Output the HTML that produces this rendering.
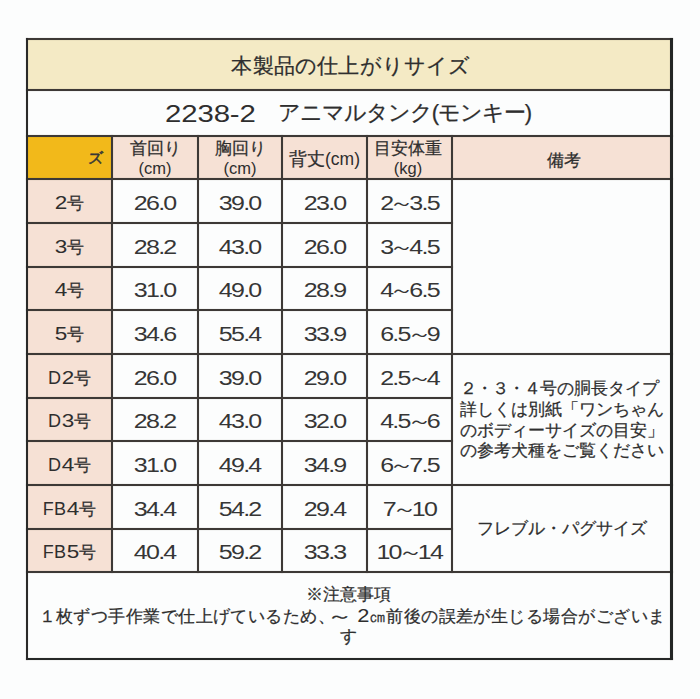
<!DOCTYPE html>
<html lang="ja"><head><meta charset="utf-8"><style>
html,body{margin:0;padding:0;background:#FCFDFD;width:700px;height:699px;overflow:hidden}
body{position:relative;font-family:"Liberation Sans",sans-serif;color:#2e2e2e;-webkit-text-stroke:0.25px #2e2e2e}
.f{position:absolute}
.h{position:absolute;height:2px;background:#3d3936;box-shadow:0 0 1px rgba(50,45,40,.45)}
.v{position:absolute;width:2px;background:#3d3936;box-shadow:0 0 1px rgba(50,45,40,.45)}
.t{position:absolute;display:flex;align-items:center;justify-content:center;text-align:center;white-space:nowrap;line-height:1}
.c{}
.n{font-size:20px;-webkit-text-stroke:0;color:#363636}
.n span{display:inline-block;transform:scaleX(1.25);letter-spacing:-1.4px}
.j{font-size:16.5px}
.L{font-size:18px;letter-spacing:0.3px;-webkit-text-stroke:0}
.L b{font-weight:normal;display:inline-block;transform:scaleX(1.25);margin:0 1.25px}
.n i{font-style:normal;margin:0 -2.5px}
.rm{text-align:left}
.lt{-webkit-text-stroke:0}
</style></head><body>
<div class="f" style="left:28px;top:40px;width:642px;height:49px;background:#F4EAC5"></div>
<div class="f" style="left:28px;top:137px;width:83px;height:41px;background:#F2B91A"></div>
<div class="f" style="left:113px;top:137px;width:557px;height:41px;background:#F6E1D5"></div>
<div class="f" style="left:28px;top:180px;width:83px;height:391px;background:#F6E1D5"></div>
<div class="h" style="left:26px;top:38px;width:647px"></div>
<div class="h" style="left:26px;top:89px;width:647px"></div>
<div class="h" style="left:26px;top:135px;width:647px"></div>
<div class="h" style="left:26px;top:178px;width:647px"></div>
<div class="h" style="left:26px;top:353px;width:647px"></div>
<div class="h" style="left:26px;top:484px;width:647px"></div>
<div class="h" style="left:26px;top:571px;width:647px"></div>
<div class="h" style="left:26px;top:658px;width:647px;background:#262827"></div>
<div class="h" style="left:26px;top:222px;width:427px"></div>
<div class="h" style="left:26px;top:266px;width:427px"></div>
<div class="h" style="left:26px;top:309px;width:427px"></div>
<div class="h" style="left:26px;top:397px;width:427px"></div>
<div class="h" style="left:26px;top:440px;width:427px"></div>
<div class="h" style="left:26px;top:528px;width:427px"></div>
<div class="v" style="left:26px;top:38px;height:622px;background:#2a2a29"></div>
<div class="v" style="left:670px;top:38px;height:622px;width:3px;background:#232625"></div>
<div class="v" style="left:111px;top:135px;height:438px"></div>
<div class="v" style="left:197px;top:135px;height:438px"></div>
<div class="v" style="left:281px;top:135px;height:438px"></div>
<div class="v" style="left:366px;top:135px;height:438px"></div>
<div class="v" style="left:451px;top:135px;height:438px"></div>
<div class="t " style="left:28px;top:42px;width:642px;height:49px;font-size:21.4px;letter-spacing:0.2px;padding-left:4px;box-sizing:border-box"><div>本製品の仕上がりサイズ</div></div>
<div style="position:absolute;left:165px;top:103px;font-size:23.5px;line-height:1;transform:scaleX(1.25);transform-origin:0 0;letter-spacing:-0.1px;-webkit-text-stroke:0">2238-2</div>
<div style="position:absolute;left:278px;top:102px;font-size:22px;line-height:1;letter-spacing:-1.05px">アニマルタンク(モンキー)</div>
<div class="t " style="left:28px;top:137px;width:75px;height:41px;font-size:15px;-webkit-text-stroke:0.6px #3a3a3a;justify-content:flex-end;padding-top:0"><div>ズ</div></div>
<div class="t j c" style="left:113px;top:137px;width:84px;height:41px;line-height:20px"><div>首回り<br><span class="lt">(cm)</span></div></div>
<div class="t j c" style="left:199px;top:137px;width:82px;height:41px;line-height:20px"><div>胸回り<br><span class="lt">(cm)</span></div></div>
<div class="t j" style="left:283px;top:139px;width:83px;height:41px;font-size:17.5px"><div>背丈<span class="lt">(cm)</span></div></div>
<div class="t j c" style="left:366px;top:137px;width:84px;height:41px;line-height:20px"><div>目安体重<br><span class="lt">(kg)</span></div></div>
<div class="t j" style="left:455px;top:139px;width:217px;height:42px;"><div>備考</div></div>
<div class="t j" style="left:28px;top:181.5px;width:83px;height:42.0px;"><div><span class="L"><b>2</b></span>号</div></div>
<div class="t n" style="left:113px;top:181.5px;width:84px;height:42.0px;"><div><span>26.0</span></div></div>
<div class="t n" style="left:199px;top:181.5px;width:82px;height:42.0px;"><div><span>39.0</span></div></div>
<div class="t n" style="left:283px;top:181.5px;width:83px;height:42.0px;"><div><span>23.0</span></div></div>
<div class="t n" style="left:368px;top:181.5px;width:83px;height:42.0px;"><div><span>2<i>～</i>3.5</span></div></div>
<div class="t j" style="left:28px;top:225.5px;width:83px;height:42.0px;"><div><span class="L"><b>3</b></span>号</div></div>
<div class="t n" style="left:113px;top:225.5px;width:84px;height:42.0px;"><div><span>28.2</span></div></div>
<div class="t n" style="left:199px;top:225.5px;width:82px;height:42.0px;"><div><span>43.0</span></div></div>
<div class="t n" style="left:283px;top:225.5px;width:83px;height:42.0px;"><div><span>26.0</span></div></div>
<div class="t n" style="left:368px;top:225.5px;width:83px;height:42.0px;"><div><span>3<i>～</i>4.5</span></div></div>
<div class="t j" style="left:28px;top:269.5px;width:83px;height:41.0px;"><div><span class="L"><b>4</b></span>号</div></div>
<div class="t n" style="left:113px;top:269.5px;width:84px;height:41.0px;"><div><span>31.0</span></div></div>
<div class="t n" style="left:199px;top:269.5px;width:82px;height:41.0px;"><div><span>49.0</span></div></div>
<div class="t n" style="left:283px;top:269.5px;width:83px;height:41.0px;"><div><span>28.9</span></div></div>
<div class="t n" style="left:368px;top:269.5px;width:83px;height:41.0px;"><div><span>4<i>～</i>6.5</span></div></div>
<div class="t j" style="left:28px;top:312.5px;width:83px;height:42.0px;"><div><span class="L"><b>5</b></span>号</div></div>
<div class="t n" style="left:113px;top:312.5px;width:84px;height:42.0px;"><div><span>34.6</span></div></div>
<div class="t n" style="left:199px;top:312.5px;width:82px;height:42.0px;"><div><span>55.4</span></div></div>
<div class="t n" style="left:283px;top:312.5px;width:83px;height:42.0px;"><div><span>33.9</span></div></div>
<div class="t n" style="left:368px;top:312.5px;width:83px;height:42.0px;"><div><span>6.5<i>～</i>9</span></div></div>
<div class="t j" style="left:28px;top:356.5px;width:83px;height:42.0px;"><div><span class="L">D<b>2</b></span>号</div></div>
<div class="t n" style="left:113px;top:356.5px;width:84px;height:42.0px;"><div><span>26.0</span></div></div>
<div class="t n" style="left:199px;top:356.5px;width:82px;height:42.0px;"><div><span>39.0</span></div></div>
<div class="t n" style="left:283px;top:356.5px;width:83px;height:42.0px;"><div><span>29.0</span></div></div>
<div class="t n" style="left:368px;top:356.5px;width:83px;height:42.0px;"><div><span>2.5<i>～</i>4</span></div></div>
<div class="t j" style="left:28px;top:400.5px;width:83px;height:41.0px;"><div><span class="L">D<b>3</b></span>号</div></div>
<div class="t n" style="left:113px;top:400.5px;width:84px;height:41.0px;"><div><span>28.2</span></div></div>
<div class="t n" style="left:199px;top:400.5px;width:82px;height:41.0px;"><div><span>43.0</span></div></div>
<div class="t n" style="left:283px;top:400.5px;width:83px;height:41.0px;"><div><span>32.0</span></div></div>
<div class="t n" style="left:368px;top:400.5px;width:83px;height:41.0px;"><div><span>4.5<i>～</i>6</span></div></div>
<div class="t j" style="left:28px;top:443.5px;width:83px;height:42.0px;"><div><span class="L">D<b>4</b></span>号</div></div>
<div class="t n" style="left:113px;top:443.5px;width:84px;height:42.0px;"><div><span>31.0</span></div></div>
<div class="t n" style="left:199px;top:443.5px;width:82px;height:42.0px;"><div><span>49.4</span></div></div>
<div class="t n" style="left:283px;top:443.5px;width:83px;height:42.0px;"><div><span>34.9</span></div></div>
<div class="t n" style="left:368px;top:443.5px;width:83px;height:42.0px;"><div><span>6<i>～</i>7.5</span></div></div>
<div class="t j" style="left:28px;top:487.5px;width:83px;height:42.0px;"><div><span class="L">FB<b>4</b></span>号</div></div>
<div class="t n" style="left:113px;top:487.5px;width:84px;height:42.0px;"><div><span>34.4</span></div></div>
<div class="t n" style="left:199px;top:487.5px;width:82px;height:42.0px;"><div><span>54.2</span></div></div>
<div class="t n" style="left:283px;top:487.5px;width:83px;height:42.0px;"><div><span>29.4</span></div></div>
<div class="t n" style="left:368px;top:487.5px;width:83px;height:42.0px;"><div><span>7<i>～</i>10</span></div></div>
<div class="t j" style="left:28px;top:531.5px;width:83px;height:41.0px;"><div><span class="L">FB<b>5</b></span>号</div></div>
<div class="t n" style="left:113px;top:531.5px;width:84px;height:41.0px;"><div><span>40.4</span></div></div>
<div class="t n" style="left:199px;top:531.5px;width:82px;height:41.0px;"><div><span>59.2</span></div></div>
<div class="t n" style="left:283px;top:531.5px;width:83px;height:41.0px;"><div><span>33.3</span></div></div>
<div class="t n" style="left:368px;top:531.5px;width:83px;height:41.0px;"><div><span>10<i>～</i>14</span></div></div>
<div class="t j c rm" style="left:453px;top:356px;width:217px;height:129px;line-height:20.6px;font-size:16.8px"><div><span style="letter-spacing:-1px">２・３・４</span>号の胴長タイプ<br>詳しくは別紙「ワンちゃん<br>のボディーサイズの目安」<br>の参考犬種をご覧ください</div></div>
<div class="t j" style="left:453px;top:486px;width:217px;height:85px;font-size:17.2px"><div>フレブル・パグサイズ</div></div>
<div class="t j c" style="left:28px;top:574px;width:642px;height:85px;line-height:20.5px;font-size:16.8px"><div>※注意事項<br><span style="letter-spacing:0.45px;position:relative;left:3px">１枚ずつ手作業で仕上げているため、<span style="display:inline-block;transform:translateX(-3.5px) scaleX(1.5)">～</span> <span style="display:inline-block;font-size:19px;line-height:1;transform:scaleX(1.15);-webkit-text-stroke:0">2</span>㎝前後の誤差が生じる場合がございま</span><br>す</div></div>
</body></html>
